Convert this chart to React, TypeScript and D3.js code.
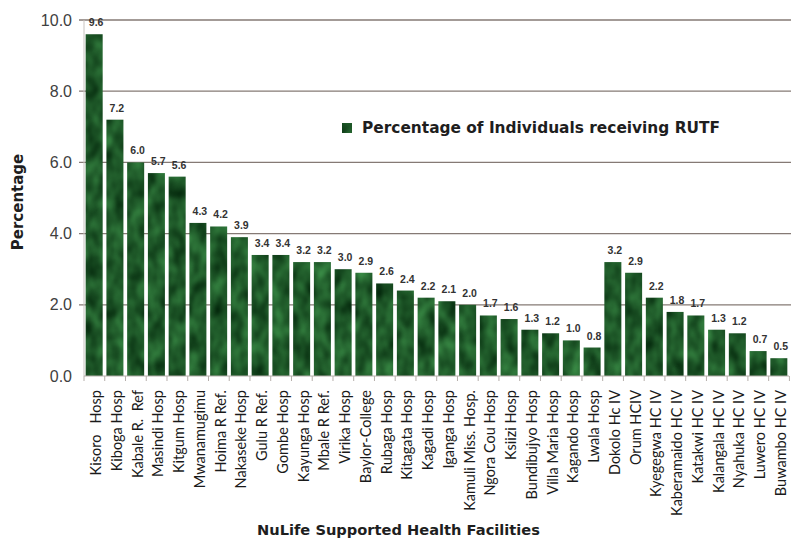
import React from "react";
import * as d3 from "d3";

const facilities = [
  "Kisoro   Hosp", "Kiboga Hosp", "Kabale R.  Ref", "Masindi Hosp", "Kitgum Hosp",
  "Mwanamugimu", "Hoima R Ref.", "Nakaseke Hosp", "Gulu R Ref.", "Gombe Hosp",
  "Kayunga Hosp", "Mbale R Ref.", "Virika Hosp", "Baylor-College", "Rubaga Hosp",
  "Kitagata Hosp", "Kagadi Hosp", "Iganga Hosp", "Kamuli Miss. Hosp.", "Ngora Cou Hosp",
  "Ksiizi Hosp", "Bundibujyo Hosp", "Villa Maria Hosp", "Kagando Hosp", "Lwala Hosp",
  "Dokolo Hc IV", "Orum HCIV", "Kyegegwa HC IV", "Kaberamaido HC IV", "Katakwi HC IV",
  "Kalangala HC IV", "Nyahuka HC IV", "Luwero HC IV", "Buwambo HC IV",
];

const percentages = [
  9.6, 7.2, 6.0, 5.7, 5.6, 4.3, 4.2, 3.9, 3.4, 3.4,
  3.2, 3.2, 3.0, 2.9, 2.6, 2.4, 2.2, 2.1, 2.0, 1.7,
  1.6, 1.3, 1.2, 1.0, 0.8, 3.2, 2.9, 2.2, 1.8, 1.7,
  1.3, 1.2, 0.7, 0.5,
];

const yTicks = [0, 2, 4, 6, 8, 10];

const seriesName = "Percentage of Individuals receiving RUTF";
const xTitle = "NuLife Supported Health Facilities";
const yTitle = "Percentage";

const W = 792;
const H = 544;
const left = 84;
const right = 789;
const top = 20;
const bottom = 376;

export default function App() {
  const x = d3
    .scaleBand<string>()
    .domain(facilities)
    .range([left, right])
    .paddingInner(0.18)
    .paddingOuter(0.08);
  const y = d3.scaleLinear().domain([0, 10]).range([bottom, top]);
  const step = x.step();
  const textColor = "#333333";

  return (
    <svg
      width={W}
      height={H}
      style={{ position: "absolute", left: 0, top: 0, background: "#fff" }}
      fontFamily="'Liberation Sans', Arial, sans-serif"
    >
      <defs>
        <filter id="marble" x="0" y="0" width="100%" height="100%" colorInterpolationFilters="sRGB">
          <feTurbulence type="fractalNoise" baseFrequency="0.07 0.05" numOctaves={2} seed={7} result="n" />
          <feColorMatrix
            in="n"
            type="matrix"
            values="0.26 0 0 0 -0.01  0.48 0 0 0 0.11  0.28 0 0 0 0.02  0 0 0 0 1"
            result="c"
          />
          <feComposite in="c" in2="SourceGraphic" operator="in" />
        </filter>
      </defs>

      {/* horizontal gridlines */}
      {yTicks.filter((t) => t > 0).map((t) => (
        <line key={t} x1={left - 5} x2={right + 2} y1={y(t)} y2={y(t)} stroke="#857a75" strokeWidth={1.3} />
      ))}
      {/* y axis line */}
      <line x1={left} x2={left} y1={top} y2={bottom} stroke="#c8c3c0" strokeWidth={1} />

      {/* y tick labels */}
      {yTicks.map((t) => (
        <text key={t} x={left - 12} y={y(t)} dy="0.35em" textAnchor="end" fontSize={16} fill="#404040">
          {d3.format(".1f")(t)}
        </text>
      ))}

      {/* bars */}
      {facilities.map((f, i) => (
        <rect
          key={f}
          x={x(f)}
          y={y(percentages[i])}
          width={x.bandwidth()}
          height={bottom - y(percentages[i])}
          fill="#1f5a30"
          filter="url(#marble)"
        />
      ))}

      {/* x axis line and ticks */}
      <line x1={left} x2={right} y1={bottom} y2={bottom} stroke="#b5aeaa" strokeWidth={1} />
      {d3.range(facilities.length + 1).map((k) => (
        <line
          key={k}
          x1={left + k * step}
          x2={left + k * step}
          y1={bottom}
          y2={bottom + 5}
          stroke="#b5aeaa"
          strokeWidth={1}
        />
      ))}

      {/* value labels */}
      {facilities.map((f, i) => (
        <text
          key={f}
          x={(x(f) ?? 0) + x.bandwidth() / 2 + 2}
          y={y(percentages[i]) - 8}
          textAnchor="middle"
          fontSize={10.5}
          fontWeight="bold"
          fill={textColor}
        >
          {d3.format(".1f")(percentages[i])}
        </text>
      ))}

      {/* category labels */}
      {facilities.map((f) => {
        const cx = (x(f) ?? 0) + x.bandwidth() / 2;
        return (
          <text
            key={f}
            transform={`translate(${cx + 7},${bottom + 14}) rotate(-90)`}
            textAnchor="end"
            fontSize={14.5}
            fontFamily="Lato, sans-serif"
            fill="#1a1a1a"
            xmlSpace="preserve"
          >
            {f}
          </text>
        );
      })}

      {/* legend */}
      <rect x={342} y={123} width={10} height={10} fill="#1f5a30" filter="url(#marble)" />
      <text
        x={362}
        y={133}
        fontSize={15}
        fontWeight="bold"
        fill="#1e1e1e"
        fontFamily="'DejaVu Sans', sans-serif"
        textLength={358}
        lengthAdjust="spacingAndGlyphs"
      >
        {seriesName}
      </text>

      {/* axis titles */}
      <text
        transform={`translate(23,202) rotate(-90)`}
        textAnchor="middle"
        fontSize={15}
        fontWeight="bold"
        fill="#1e1e1e"
        fontFamily="'DejaVu Sans', sans-serif"
      >
        {yTitle}
      </text>
      <text
        x={257}
        y={535}
        fontSize={14}
        fontWeight="bold"
        fill="#1e1e1e"
        fontFamily="'DejaVu Sans', sans-serif"
        textLength={283}
        lengthAdjust="spacingAndGlyphs"
      >
        {xTitle}
      </text>
    </svg>
  );
}
